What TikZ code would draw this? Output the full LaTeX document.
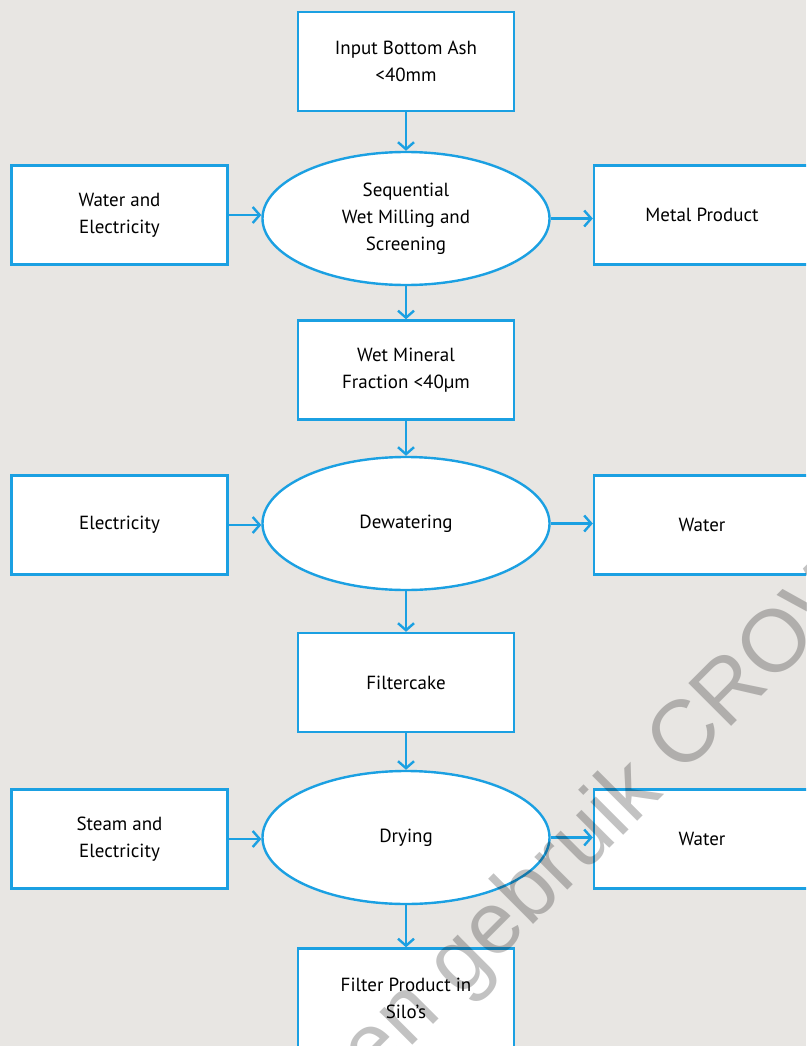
\documentclass[tikz,border=0pt]{standalone}
\usepackage{fontspec}
\setmainfont{PT Sans}
\newfontfamily\wmfont{Liberation Sans}
\usetikzlibrary{shapes.geometric,arrows.meta}
\definecolor{bleu}{RGB}{27,160,226}
\definecolor{fond}{RGB}{232,230,227}
\tikzset{
  boite/.style={draw=bleu,line width=2.4pt,fill=white,minimum width=216pt,minimum height=99pt,
    align=center,inner sep=0pt,font=\fontsize{19}{27}\selectfont},
  etape/.style={ellipse,draw=bleu,line width=2.4pt,fill=white,minimum width=287pt,minimum height=133pt,
    align=center,inner sep=0pt,font=\fontsize{19}{27}\selectfont},
  fleche/.style={bleu,line width=2.4pt,-{Straight Barb[length=7pt,width=16pt,line width=2.4pt]}}
}
\begin{document}
\begin{tikzpicture}[x=1pt,y=1pt]
\useasboundingbox (0,0) rectangle (806,-1046);
\clip (0,0) rectangle (806,-1046);
\fill [fond] (0,0) rectangle (806,-1046);
% colonne centrale
\node [boite] (input) at (406,-61.5) {Input Bottom Ash\\<40mm};
\node [etape] (milling) at (406,-218.5) {Sequential\\Wet Milling and\\Screening};
\node [boite] (mineral) at (406,-370) {Wet Mineral\\Fraction <40µm};
\node [etape] (dewater) at (406,-523.5) {Dewatering};
\node [boite] (cake) at (406,-682.5) {Filtercake};
\node [etape] (drying) at (406,-837.5) {Drying};
\node [boite] (silo) at (406,-998) {Filter Product in\\Silo’s};
% entrees et sorties
\node [boite] (waterelec) at (119.5,-215) {Water and\\Electricity};
\node [boite] (metal) at (702,-215) {Metal Product};
\node [boite] (elec) at (119.5,-525) {Electricity};
\node [boite] (water1) at (702,-525) {Water};
\node [boite] (steam) at (119.5,-839) {Steam and\\Electricity};
\node [boite] (water2) at (702,-839) {Water};
% fleches
\draw [fleche] (input) -- (milling);
\draw [fleche] (milling) -- (mineral);
\draw [fleche] (mineral) -- (dewater);
\draw [fleche] (dewater) -- (cake);
\draw [fleche] (cake) -- (drying);
\draw [fleche] (drying) -- (silo);
\draw [fleche] (waterelec.east) -- (waterelec.east-|milling.west);
\draw [fleche] (milling.east) -- (metal.west|-milling.east);
\draw [fleche] (elec.east) -- (elec.east-|dewater.west);
\draw [fleche] (dewater.east) -- (water1.west|-dewater.east);
\draw [fleche] (steam.east) -- (steam.east-|drying.west);
\draw [fleche] (drying.east) -- (water2.west|-drying.east);
% filigrane
\node [rotate=45,black,opacity=0.24,font=\wmfont\fontsize{88}{88}\selectfont] (filigrane) at (610,-816) {en gebruik CROW};
\end{tikzpicture}
\end{document}
